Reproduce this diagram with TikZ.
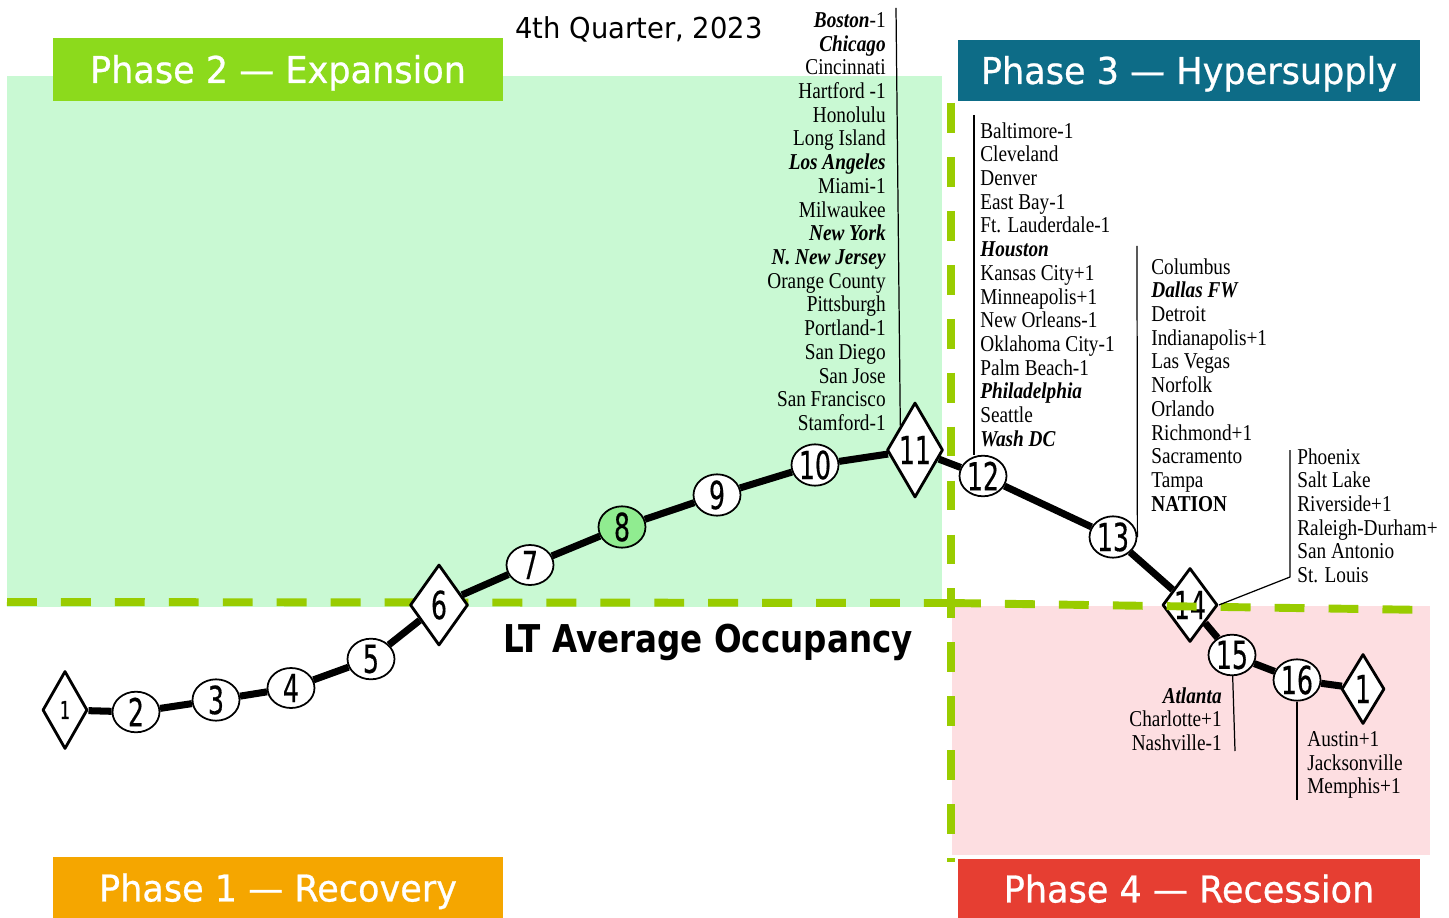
\documentclass[tikz,border=0pt]{standalone}
\usepackage{fontspec}
\setmainfont[FakeStretch=0.85]{Liberation Serif}
\newfontfamily\headfont[FakeStretch=0.95,FakeBold=0.7]{DejaVu Sans}
\newfontfamily\qtrfont[FakeStretch=0.95]{DejaVu Sans}
\newfontfamily\numfont[FakeStretch=0.65,FakeBold=0.4]{DejaVu Sans}
\newfontfamily\occfont[FakeStretch=0.85]{DejaVu Sans}
\usetikzlibrary{shapes.geometric}
\definecolor{expgreen}{RGB}{201,249,211}
\definecolor{recpink}{RGB}{253,222,225}
\definecolor{occgreen}{RGB}{153,204,0}
\definecolor{limebox}{RGB}{140,218,28}
\definecolor{tealbox}{RGB}{13,108,135}
\definecolor{orangebox}{RGB}{245,166,0}
\definecolor{redbox}{RGB}{230,62,50}
\definecolor{stopgreen}{RGB}{144,236,144}
\begin{document}
\begin{tikzpicture}[x=0.02cm,y=-0.02cm,line join=round,
	num/.style={font=\numfont\fontsize{22}{22}\selectfont},
	stop/.style={ellipse,draw,fill=white,line width=1pt,minimum width=0.94cm,minimum height=0.8cm,inner sep=0pt,num},
	turn/.style={diamond,draw,fill=white,line width=1.6pt,inner sep=0pt},
	route/.style={line width=4pt,line cap=butt},
	occline/.style={occgreen,line width=4.5pt,dash pattern=on 17pt off 13.7pt},
	leader/.style={line width=0.7pt},
	city/.style={inner sep=0pt,font=\fontsize{12.9}{13.5}\selectfont},
	phase/.style={text=white,inner sep=0pt,text height=15.3pt,text depth=0pt,font=\headfont\fontsize{21}{22}\selectfont}]
	\def\hot#1{\textbf{\textit{#1}}}
	\useasboundingbox (0,0) rectangle (1449,918);
	\clip (0,0) rectangle (1436,918);
	\fill[expgreen] (7,76) rectangle (942,607); % vùng Phase 2
	\fill[recpink] (952,606) rectangle (1430,855); % vùng Phase 4
	\node[phase,fill=limebox,minimum width=9cm,minimum height=1.26cm] (ph2) at (278,69.5) {Phase 2 — Expansion};
	\node[phase,fill=tealbox,minimum width=9.24cm,minimum height=1.22cm] (ph3) at (1189,70.5) {Phase 3 — Hypersupply};
	\node[phase,fill=orangebox,minimum width=9cm,minimum height=1.26cm] (ph1) at (278,888) {Phase 1 — Recovery};
	\node[phase,fill=redbox,minimum width=9.24cm,minimum height=1.2cm] (ph4) at (1189,889) {Phase 4 — Recession};
	\node[anchor=base,inner sep=0pt,font=\qtrfont\fontsize{16.4}{17}\selectfont] (qtr) at (639,39) {4th Quarter, 2023};
	\node[anchor=base,inner sep=0pt,font=\occfont\bfseries\fontsize{21.8}{22}\selectfont] (lt) at (708,652) {LT Average Occupancy};
	\coordinate (occL) at (7,602);
	\coordinate (occM) at (951,603);
	\coordinate (occR) at (1430,610);
	\coordinate (vtop) at (951,103);
	\coordinate (vbot) at (951,862);
	\draw[occline] (occL) -- (occM); % đường công suất trung bình
	\draw[occline] (vtop) -- (vbot);
	% các điểm của chu kỳ
	\node[turn,minimum width=0.9cm,minimum height=1.56cm,label={[num,font=\numfont\fontsize{14}{14}\selectfont]center:1}] (n1) at (65,710) {};
	\node[stop] (n2) at (136,712) {2};
	\node[stop] (n3) at (216,700) {3};
	\node[stop] (n4) at (291,688) {4};
	\node[stop] (n5) at (371,659) {5};
	\node[turn,minimum width=1.16cm,minimum height=1.62cm,label={[num]center:6}] (n6) at (439,605) {};
	\node[stop] (n7) at (530,565) {7};
	\node[stop,fill=stopgreen] (n8) at (622,527) {8};
	\node[stop] (n9) at (717,495) {9};
	\node[stop] (n10) at (815,465) {10};
	\node[turn,minimum width=1.12cm,minimum height=1.9cm,label={[num]center:11}] (n11) at (915,450) {};
	\node[stop] (n12) at (983,476) {12};
	\node[stop] (n13) at (1113,537) {13};
	\node[turn,minimum width=1.1cm,minimum height=1.48cm,label={[num]center:14}] (n14) at (1190,605) {};
	\node[stop] (n15) at (1232,655) {15};
	\node[stop] (n16) at (1297,680) {16};
	\node[turn,minimum width=0.86cm,minimum height=1.4cm,label={[num]center:1}] (n17) at (1363,689) {};
	\draw[route] (n1) -- (n2) -- (n3) -- (n4) -- (n5) -- (n6) -- (n7) -- (n8) -- (n9) -- (n10) -- (n11) -- (n12) -- (n13) -- (n14) -- (n15) -- (n16) -- (n17);
	\draw[occline] (occM) -- (occR);
	% các cột thị trường
	\coordinate (a) at (896,8);
	\coordinate (b) at (974,115);
	\coordinate (c) at (1137,246);
	\coordinate (d) at (1290,450);
	\coordinate (d2) at (1290,577);
	\coordinate (e) at (1235,751);
	\coordinate (f) at (1297,800);
	\draw[leader] (a) -- (n11.north west);
	\draw[leader] (b) -- (b |- n12.north);
	\draw[leader] (c) -- (n13.east);
	\draw[leader] (d) -- (d2) -- (n14.east);
	\draw[leader] (n15) -- (e);
	\draw[leader] (n16) -- (f);
	\node[city,anchor=north east,align=right] (listA) at (886,12) {\hot{Boston}-1\\ \hot{Chicago}\\ Cincinnati\\ Hartford -1\\ Honolulu\\ Long Island\\ \hot{Los Angeles}\\ Miami-1\\ Milwaukee\\ \hot{New York}\\ \hot{N. New Jersey}\\ Orange County\\ Pittsburgh\\ Portland-1\\ San Diego\\ San Jose\\ San Francisco\\ Stamford-1};
	\node[city,anchor=north west,align=left] (listB) at (980,122) {Baltimore-1\\ Cleveland\\ Denver\\ East Bay-1\\ Ft. Lauderdale-1\\ \hot{Houston}\\ Kansas City+1\\ Minneapolis+1\\ New Orleans-1\\ Oklahoma City-1\\ Palm Beach-1\\ \hot{Philadelphia}\\ Seattle\\ \hot{Wash DC}};
	\node[city,anchor=north west,align=left] (listC) at (1151,258) {Columbus\\ \hot{Dallas FW}\\ Detroit\\ Indianapolis+1\\ Las Vegas\\ Norfolk\\ Orlando\\ Richmond+1\\ Sacramento\\ Tampa\\ \textbf{NATION}};
	\node[city,anchor=north west,align=left] (listD) at (1297,448) {Phoenix\\ Salt Lake\\ Riverside+1\\ Raleigh-Durham+1\\ San Antonio\\ St. Louis};
	\node[city,anchor=north east,align=right] (listE) at (1222,687) {\hot{Atlanta}\\ Charlotte+1\\ Nashville-1};
	\node[city,anchor=north west,align=left] (listF) at (1307,731) {Austin+1\\ Jacksonville\\ Memphis+1};
\end{tikzpicture}
\end{document}
